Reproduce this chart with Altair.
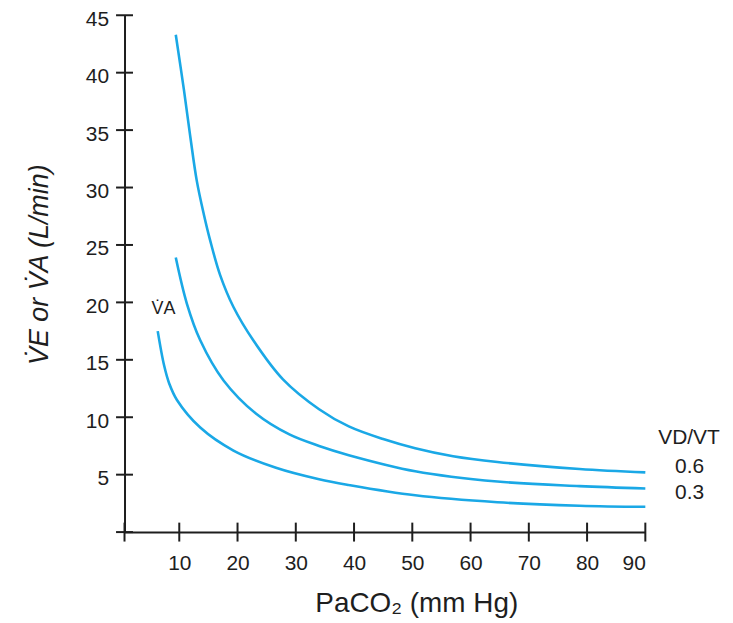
import altair as alt
import pandas as pd

# curve readings (PaCO2 mm Hg, L/min)
top_x = [9.4, 10.8, 11.9, 13.0, 14.2, 15.3, 17.0, 19.3, 22.7, 27.8, 34.0, 39.1, 45.0, 50.5, 57.0, 64.6, 78.7, 90.0]
top_y = [43.3, 38.5, 34.4, 30.6, 27.7, 25.4, 22.4, 19.6, 16.7, 13.3, 10.7, 9.2, 8.1, 7.3, 6.6, 6.1, 5.5, 5.2]

mid_x = [9.4, 11.3, 13.6, 17.6, 23.2, 28.9, 34.0, 39.1, 50.5, 64.6, 78.7, 90.0]
mid_y = [23.9, 19.9, 16.7, 13.2, 10.3, 8.5, 7.5, 6.7, 5.3, 4.4, 4.0, 3.8]

bot_x = [6.3, 7.4, 8.3, 9.6, 13.6, 19.3, 26.6, 34.0, 39.1, 50.5, 64.6, 78.7, 90.0]
bot_y = [17.5, 14.5, 12.9, 11.5, 9.1, 7.1, 5.6, 4.6, 4.1, 3.2, 2.6, 2.3, 2.2]

x_ticks = [10, 20, 30, 40, 50, 60, 70, 80, 90]
y_ticks = [5, 10, 15, 20, 25, 30, 35, 40, 45]
x_min, x_max = 0.6, 90
y_min, y_max = 0, 45

label_text = ["V\u0307A", "VD/VT", "0.6", "0.3"]
label_x = [7.3, 97.5, 97.6, 97.6]
label_y = [19.4, 8.2, 5.7, 3.4]
label_size = [18, 21, 21, 21]

rows = []
for name, xs, ys in [("0.6", top_x, top_y), ("0.3", mid_x, mid_y), ("VA", bot_x, bot_y)]:
    for a, b in zip(xs, ys):
        rows.append({"curve": name, "x": a, "y": b})
curves = pd.DataFrame(rows)

FONT = "Liberation Sans"
BLUE = "#1aa8e6"
INK = "#1e1e1e"

xscale = alt.Scale(domain=[x_min, x_max], nice=False, zero=False)
yscale = alt.Scale(domain=[y_min, y_max], nice=False, zero=False)

xaxis = alt.Axis(values=x_ticks, ticks=False, grid=False, domainColor=INK, domainWidth=2,
                 labelFont=FONT, labelFontSize=21, labelColor=INK, labelPadding=21,
                 title="PaCO\u2082 (mm Hg)", titleFont=FONT, titleFontSize=28, titleFontWeight="normal",
                 titleColor=INK, titleX=293, titleY=72, titleBaseline="middle", titleAlign="center")
yaxis = alt.Axis(values=y_ticks, ticks=False, grid=False, domainColor=INK, domainWidth=2,
                 labelFont=FONT, labelFontSize=21, labelColor=INK, labelPadding=16, labelOffset=4,
                 title="V\u0307E or V\u0307A (L/min)", titleFont=FONT, titleFontSize=27,
                 titleFontWeight="normal", titleFontStyle="italic", titleColor=INK,
                 titleX=-85, titleY=250, titleAngle=270, titleBaseline="middle", titleAlign="center")


def X():
    return alt.X("x:Q", scale=xscale, axis=xaxis)


def Y():
    return alt.Y("y:Q", scale=yscale, axis=yaxis)


lines = alt.Chart(curves).mark_line(color=BLUE, strokeWidth=2.6, interpolate="catmull-rom").encode(
    x=X(), y=Y(), detail="curve:N")

xt = pd.DataFrame({"x": [x_min] + x_ticks, "y": [y_min] * (len(x_ticks) + 1)})
yt = pd.DataFrame({"x": [x_min] * (len(y_ticks) + 1), "y": [y_min] + y_ticks})

xtick_marks = alt.Chart(xt).mark_tick(color=INK, opacity=1, thickness=2, size=19,
                                      orient="vertical").encode(x=X(), y=Y())
ytick_marks = alt.Chart(yt).mark_tick(color=INK, opacity=1, thickness=2, size=17,
                                      orient="horizontal").encode(x=X(), y=Y())

labels = pd.DataFrame({"t": label_text, "x": label_x, "y": label_y, "s": label_size})
text = alt.Chart(labels).mark_text(font=FONT, color=INK, align="center",
                                   baseline="middle").encode(
    x=X(), y=Y(), text="t:N", size=alt.Size("s:Q", scale=None, legend=None))

chart = alt.layer(lines, xtick_marks, ytick_marks, text).properties(
    width=523, height=519,
    autosize=alt.AutoSizeParams(type="none"),
    padding={"left": 117, "top": 6, "right": 80, "bottom": 88},
).configure(background="white", view=alt.ViewConfig(stroke=None))

chart.save("out.html", embed_options={"renderer": "svg", "actions": False})
